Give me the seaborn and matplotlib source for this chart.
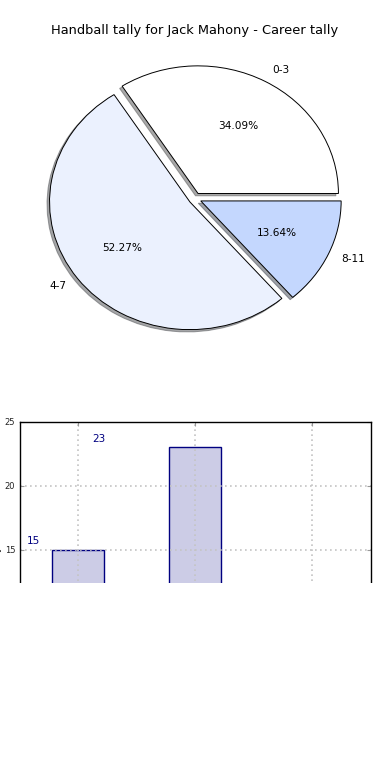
import numpy as np
import pandas as pd
import matplotlib
matplotlib.use("Agg")
import matplotlib.pyplot as plt
from matplotlib.patches import Rectangle
import seaborn as sns

# data
categories = ["0-3", "4-7", "8-11"]
tally = [15, 23, 6]
pie_colors = ["#FFFFFF", "#EBF1FE", "#C4D7FE"]
explode = [0.045, 0.045, 0.045]

sns.set_style("white")
plt.rcParams['font.family'] = ['DejaVu Sans']
plt.rcParams['text.color'] = 'black'

fig, (ax1, ax2) = plt.subplots(2, 1, figsize=(3.9, 7.8), dpi=100)
fig.subplots_adjust(left=0.05, right=0.95, top=0.95, bottom=0.05, hspace=0.2)

# Pie chart of the tally
ax1.pie(tally, labels=categories, colors=pie_colors, explode=explode,
        autopct="%.2f%%", shadow={"ox": -0.013, "oy": -0.013, "shade": 0.68},
        wedgeprops={"edgecolor": "black", "linewidth": 0.7},
        textprops={"fontsize": 7.6, "color": "black"})
ax1.set_aspect("auto")
ax1.set_xlim(-1.25, 1.25)
ax1.set_ylim(-1.25, 1.25)
ax1.set_title("Handball tally for Jack Mahony - Career tally", fontsize=9.4,
              pad=3.5, color="black")

# Bar chart of the tally
df = pd.DataFrame({"range": categories, "tally": tally})
sns.barplot(data=df, x="range", y="tally", width=0.45, color="#CCCCE6",
            saturation=1, edgecolor="navy", linewidth=1, ax=ax2)
ax2.set_ylim(0, 25)
ax2.set_yticks(np.arange(0, 26, 5))
ax2.set_xlabel("Handball range", fontsize=7.5)
ax2.set_ylabel("Handball tally", fontsize=7.5, labelpad=2)
ax2.grid(True, linestyle=(0, (1, 2)), color="#c4c4c4", linewidth=1.2)
ax2.set_axisbelow(False)
ax2.tick_params(direction="in", length=3, color="#999999", labelsize=6,
                labelcolor="#222222", top=True, right=True, left=True, bottom=True, pad=3)
for s in ax2.spines.values():
    s.set_color("black")
    s.set_linewidth(1)
    s.set_zorder(5)
for i, v in enumerate(tally):
    ax2.text(i * 0.556 - 0.436, v + 0.25, str(v), color="navy", fontsize=7.5,
             ha="left", va="bottom")

# lower part of the canvas is blank in the reference
fig.add_artist(Rectangle((0, 0), 1, 1 - 583 / 780, transform=fig.transFigure,
                         facecolor="white", edgecolor="none", zorder=10))

fig.savefig("out.png", dpi=100)
